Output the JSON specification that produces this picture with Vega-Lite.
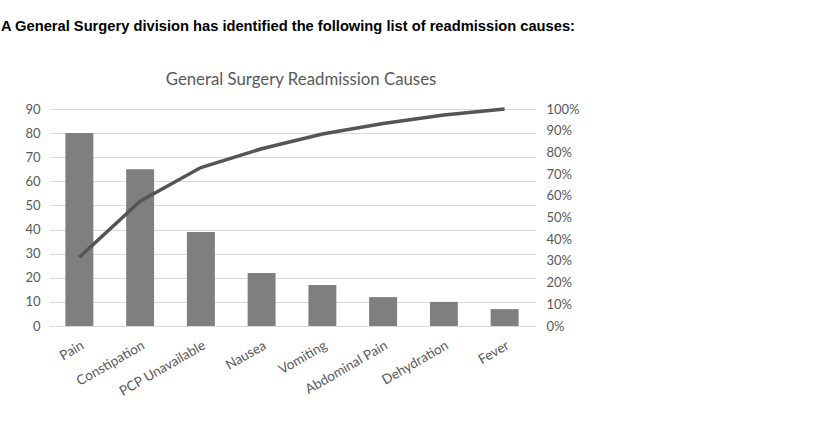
{
  "$schema": "https://vega.github.io/schema/vega-lite/v6.json",
  "padding": {"left": 0, "top": 18, "right": 0, "bottom": 0},
  "background": "white",
  "title": {
    "text": "A General Surgery division has identified the following list of readmission causes:",
    "anchor": "start",
    "frame": "bounds",
    "font": "Liberation Sans",
    "fontSize": 14.7,
    "fontWeight": "bold",
    "color": "#000000",
    "dx": -24,
    "offset": 39
  },
  "vconcat": [
    {
      "title": {
        "text": "General Surgery Readmission Causes",
        "anchor": "middle",
        "font": "Lato",
        "fontSize": 16.8,
        "fontWeight": "normal",
        "color": "#595959",
        "dx": 9,
        "offset": 13
      },
      "width": 486,
      "height": 217,
      "data": {
        "values": [
          {"cause": "Pain", "count": 80, "cumulative": 0.317},
          {"cause": "Constipation", "count": 65, "cumulative": 0.575},
          {"cause": "PCP Unavailable", "count": 39, "cumulative": 0.73},
          {"cause": "Nausea", "count": 22, "cumulative": 0.817},
          {"cause": "Vomiting", "count": 17, "cumulative": 0.885},
          {"cause": "Abdominal Pain", "count": 12, "cumulative": 0.933},
          {"cause": "Dehydration", "count": 10, "cumulative": 0.972},
          {"cause": "Fever", "count": 7, "cumulative": 1.0}
        ]
      },
      "encoding": {
        "x": {
          "field": "cause",
          "type": "nominal",
          "sort": null,
          "scale": {"paddingInner": 0.54, "paddingOuter": 0.27},
          "axis": {
            "title": null,
            "ticks": false,
            "domainColor": "#d9d9d9",
            "labelAngle": -30,
            "labelFont": "Lato",
            "labelFontSize": 13.5,
            "labelColor": "#595959",
            "labelPadding": 12
          }
        }
      },
      "layer": [
        {
          "mark": {"type": "bar", "color": "#7f7f7f"},
          "encoding": {
            "y": {
              "field": "count",
              "type": "quantitative",
              "scale": {"domain": [0, 90], "nice": false},
              "axis": {
                "title": null,
                "values": [0, 10, 20, 30, 40, 50, 60, 70, 80, 90],
                "domain": false,
                "ticks": false,
                "gridColor": "#d9d9d9",
                "labelFont": "Lato",
                "labelFontSize": 13,
                "labelColor": "#595959",
                "labelPadding": 9
              }
            }
          }
        },
        {
          "mark": {"type": "line", "color": "#555555", "strokeWidth": 3.5},
          "encoding": {
            "y": {
              "field": "cumulative",
              "type": "quantitative",
              "scale": {"domain": [0, 1], "nice": false},
              "axis": {
                "orient": "right",
                "title": null,
                "format": ".0%",
                "values": [0, 0.1, 0.2, 0.3, 0.4, 0.5, 0.6, 0.7, 0.8, 0.9, 1.0],
                "grid": false,
                "domain": false,
                "ticks": false,
                "labelFont": "Lato",
                "labelFontSize": 13,
                "labelColor": "#595959",
                "labelPadding": 11
              }
            }
          }
        }
      ],
      "resolve": {"scale": {"y": "independent"}}
    }
  ],
  "config": {"view": {"stroke": null}}
}
